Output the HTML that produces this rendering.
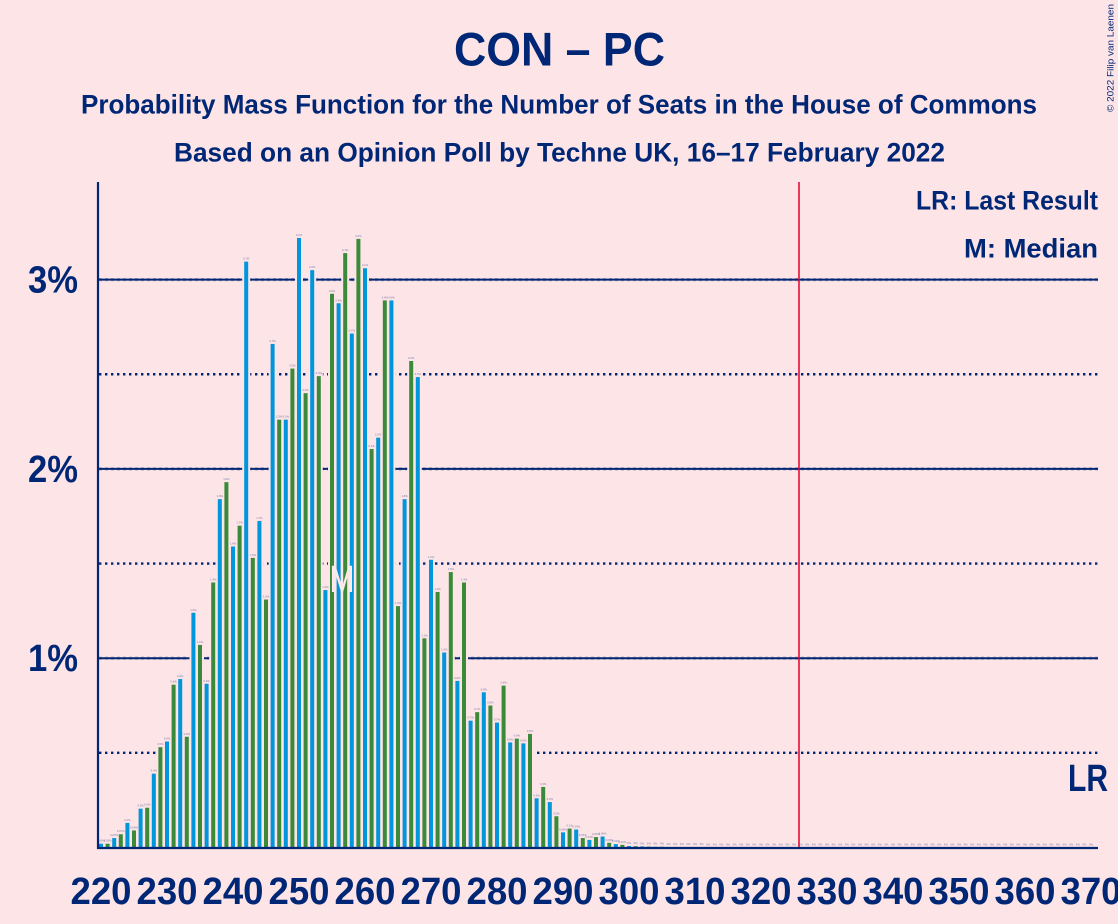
<!DOCTYPE html>
<html>
<head>
<meta charset="utf-8">
<title>CON – PC</title>
<style>
html,body{margin:0;padding:0;background:#fde4e6;}
svg{display:block;}
text{font-family:"Liberation Sans",sans-serif;font-weight:bold;fill:#002776;}
</style>
</head>
<body>
<svg id="chart" xmlns="http://www.w3.org/2000/svg" width="1118" height="924" viewBox="0 0 1118 924">
<rect x="0" y="0" width="1118" height="924" fill="#fde4e6"/>
<g id="grid"></g>
<g id="halos"></g>
<g id="bars"></g>
<g id="vals"></g>
<text x="342" y="592" font-size="38" text-anchor="middle" textLength="25" lengthAdjust="spacingAndGlyphs" style="fill:#fdeaec;font-weight:normal">M</text>
<line id="lastResult" y1="182" y2="848" stroke="#e4002b" stroke-width="1.5"/>
<line x1="98" x2="98" y1="182" y2="849" stroke="#002776" stroke-width="2.2"/>
<line x1="97" x2="1098" y1="848" y2="848" stroke="#002776" stroke-width="2.2"/>
<g id="xticks"></g>
<g id="yticks"></g>
<text x="559.5" y="65.5" font-size="47" text-anchor="middle" textLength="211" lengthAdjust="spacingAndGlyphs">CON – PC</text>
<text x="559" y="113.5" font-size="27" text-anchor="middle" textLength="956" lengthAdjust="spacingAndGlyphs">Probability Mass Function for the Number of Seats in the House of Commons</text>
<text x="559.5" y="161.5" font-size="27" text-anchor="middle" textLength="771" lengthAdjust="spacingAndGlyphs">Based on an Opinion Poll by Techne UK, 16–17 February 2022</text>
<text x="1098" y="209.5" font-size="27" text-anchor="end" textLength="182" lengthAdjust="spacingAndGlyphs">LR: Last Result</text>
<text x="1098" y="257.5" font-size="27" text-anchor="end" textLength="134" lengthAdjust="spacingAndGlyphs">M: Median</text>
<text x="1068" y="791" font-size="38" textLength="40" lengthAdjust="spacingAndGlyphs">LR</text>
<text transform="translate(1113.5,112) rotate(-90)" font-size="9.6" textLength="108" lengthAdjust="spacingAndGlyphs" style="font-weight:normal">© 2022 Filip van Laenen</text>
</svg>
<script>
const firstSeat = 220;
const lastResultSeat = 326;
const xTickLabels = [220,230,240,250,260,270,280,290,300,310,320,330,340,350,360,370];
const yTickLabels = [1,2,3];
const minorGrid = [0.5,1.5,2.5];
const seatProbabilities = [
0.02,0.02,0.05,0.07,0.13,0.09,0.205,0.21,0.39,0.53,
0.56,0.86,0.89,0.585,1.24,1.07,0.865,1.40,1.84,1.93,
1.59,1.70,3.095,1.53,1.725,1.31,2.66,2.26,2.26,2.53,
3.22,2.40,3.05,2.49,1.36,2.925,2.875,3.14,2.715,3.215,
3.06,2.105,2.165,2.89,2.89,1.275,1.84,2.57,2.485,1.105,
1.52,1.35,1.03,1.455,0.88,1.40,0.67,0.715,0.82,0.75,
0.66,0.855,0.555,0.575,0.55,0.60,0.26,0.32,0.24,0.165,
0.08,0.10,0.095,0.05,0.04,0.055,0.058,0.025,0.018,0.014,
0.008,0.007,0.006,0.005,0.004,0.004,0.003,0.003,0.002,0.002,
0.002,0.002,0.001,0.001,0.001,0.001,0.001,0.001,0.001,0.001,
0.001,0.001,0.001,0.001,0.001,0.001,0,0,0,0,
0,0,0,0,0,0,0,0,0,0,
0,0,0,0,0,0,0,0,0,0,
0,0,0,0,0,0,0,0,0,0,
0,0,0,0,0,0,0,0,0,0,
0
];

const NS = 'http://www.w3.org/2000/svg';
const BG = '#fde4e6';
const NAVY = '#002776';
function xScale(seat){ return 101 + (seat - firstSeat) * 6.6; }
function yScale(pct){ return 847.5 - pct * 189.3; }
function make(tag, attrs, parent){
  const el = document.createElementNS(NS, tag);
  for (const k in attrs) el.setAttribute(k, attrs[k]);
  parent.appendChild(el);
  return el;
}
const grid = document.getElementById('grid');
const halos = document.getElementById('halos');
const bars = document.getElementById('bars');
const vals = document.getElementById('vals');
const xticks = document.getElementById('xticks');
const yticks = document.getElementById('yticks');

minorGrid.forEach(function(v){
  const l = make('line', {x1:99, x2:1098, y1:yScale(v), y2:yScale(v), stroke:NAVY, 'stroke-width':2.4, 'stroke-dasharray':'2.4 3.6'}, grid);
  
  
});
yTickLabels.forEach(function(v){
  const y = yScale(v);
  const l = make('line', {x1:99, x2:1098, y1:y, y2:y, stroke:NAVY, 'stroke-width':2}, grid);
  
  
  const d = make('line', {x1:99, x2:1098, y1:y, y2:y, stroke:NAVY, 'stroke-width':3.2, 'stroke-dasharray':'3 3', opacity:0.3}, grid);
  
  
  const t = make('text', {x:78, y:y + 13, 'font-size':38, 'text-anchor':'end', textLength:50, lengthAdjust:'spacingAndGlyphs'}, yticks);
  
  
  t.textContent = v + '%';
});
seatProbabilities.forEach(function(v, i){
  const seat = firstSeat + i;
  const cx = xScale(seat);
  const top = yScale(v);
  const halo = make('rect', {x:cx - 4, y:top - 7, width:8, height:847.5 - top + 7, fill:BG}, halos);
  
  
});
seatProbabilities.forEach(function(v, i){
  const seat = firstSeat + i;
  const cx = xScale(seat);
  const top = yScale(v);
  const b = make('rect', {x:cx - 2, y:top, width:4, height:847.5 - top, fill:(seat % 2 === 0) ? '#0096dc' : '#3a8a3a'}, bars);
  
  
  const t = make('text', {x:cx, y:top - 2, 'font-size':2.8, 'text-anchor':'middle', opacity:0.4}, vals);
  
  
  t.textContent = (v >= 0.1 ? v.toFixed(1) : (v >= 0.01 ? v.toFixed(2) : '0')) + '%';
});
xTickLabels.forEach(function(s){
  const t = make('text', {x:xScale(s), y:904, 'font-size':38, 'text-anchor':'middle', textLength:61, lengthAdjust:'spacingAndGlyphs'}, xticks);
  
  
  t.textContent = s;
});
const lr = document.getElementById('lastResult');
lr.setAttribute('x1', xScale(lastResultSeat) - 1.6);
lr.setAttribute('x2', xScale(lastResultSeat) - 1.6);
</script>
</body>
</html>
